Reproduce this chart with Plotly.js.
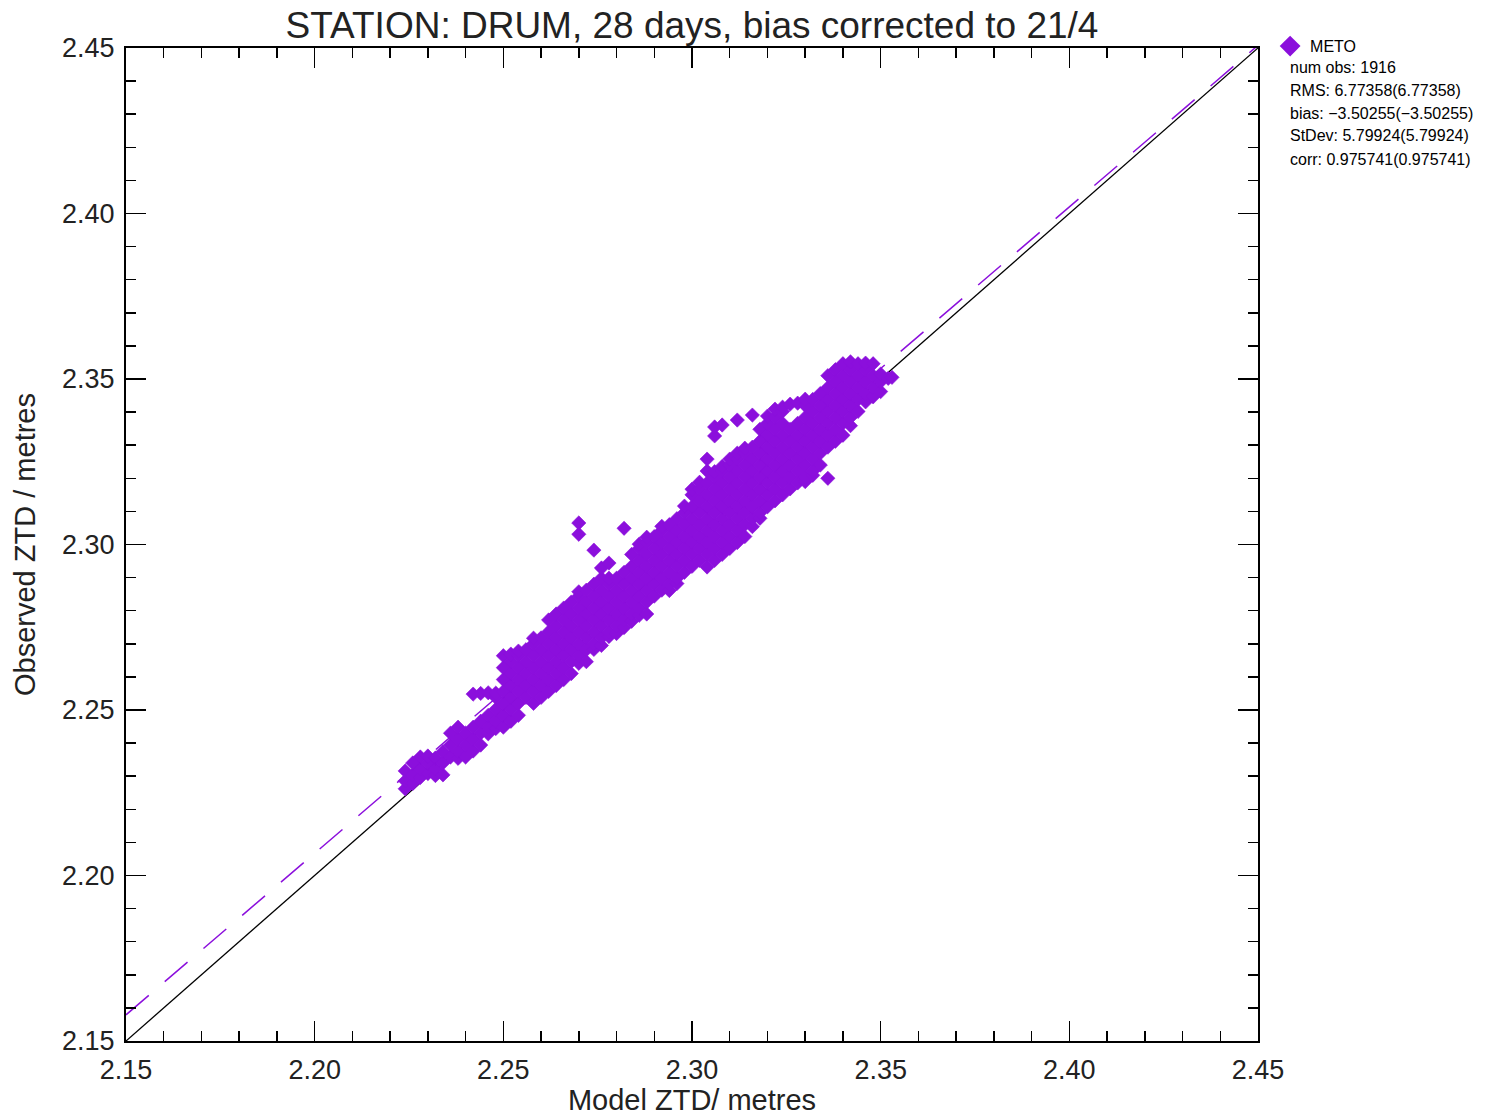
<!DOCTYPE html>
<html>
<head>
<meta charset="utf-8">
<script src="https://cdn.plot.ly/plotly-3.0.1.min.js"></script>
<style>html,body{margin:0;padding:0;background:#fff;}</style>
</head>
<body>
<div id="chart" style="width:1491px;height:1116px;"></div>
<script>
// ---- Data ----
const chartTitle = 'STATION: DRUM, 28 days, bias corrected to 21/4';
const xTitle = 'Model ZTD/ metres';
const yTitle = 'Observed ZTD / metres';
const seriesName = 'METO';
const statLines = [
  'num obs: 1916',
  'RMS: 6.77358(6.77358)',
  'bias: \u22123.50255(\u22123.50255)',
  'StDev: 5.79924(5.79924)',
  'corr: 0.975741(0.975741)'
];
const axisRange = [2.15, 2.45];
// one-to-one line and fitted (regression) line end points
const identityX = [2.15, 2.45];
const identityY = [2.15, 2.45];
const fitX = [2.15, 2.45];
const fitY = [2.1579, 2.4508];

// model ZTD column positions and the observed ZTD values read in each column
const modelZTDColumns = [
  2.224, 2.226, 2.228, 2.230, 2.232, 2.234, 2.236, 2.238, 2.240, 2.242,
  2.244, 2.246, 2.248, 2.250, 2.252, 2.254, 2.256, 2.258, 2.260, 2.262,
  2.264, 2.266, 2.268, 2.270, 2.272, 2.274, 2.276, 2.278, 2.280, 2.282,
  2.284, 2.286, 2.288, 2.290, 2.292, 2.294, 2.296, 2.298, 2.300, 2.302,
  2.304, 2.306, 2.308, 2.310, 2.312, 2.314, 2.316, 2.318, 2.320, 2.322,
  2.324, 2.326, 2.328, 2.330, 2.332, 2.334, 2.336, 2.338, 2.340, 2.342,
  2.344, 2.346, 2.348, 2.350, 2.352, 2.353
];
const observedZTDColumns = [
  [2.2262, 2.2286, 2.2316],
  [2.2278, 2.2304, 2.2340],
  [2.2296, 2.2322, 2.2358],
  [2.2308, 2.2340, 2.2361],
  [2.2302, 2.2322, 2.2355],
  [2.2304, 2.2340, 2.2374],
  [2.2358, 2.2394, 2.2430],
  [2.2354, 2.2376, 2.2412, 2.2448],
  [2.2358, 2.2394, 2.2430],
  [2.2376, 2.2412, 2.2448, 2.2548],
  [2.2394, 2.2430, 2.2466, 2.2550],
  [2.2428, 2.2448, 2.2484, 2.2552],
  [2.2444, 2.2466, 2.2502, 2.2538, 2.2551],
  [2.2448, 2.2484, 2.2520, 2.2556, 2.2592, 2.2628, 2.2664],
  [2.2466, 2.2502, 2.2538, 2.2574, 2.2610, 2.2646, 2.2669],
  [2.2484, 2.2520, 2.2556, 2.2592, 2.2628, 2.2664, 2.2678],
  [2.2538, 2.2574, 2.2610, 2.2646, 2.2682],
  [2.2520, 2.2556, 2.2592, 2.2628, 2.2664, 2.2700, 2.2717],
  [2.2538, 2.2574, 2.2610, 2.2646, 2.2682, 2.2718],
  [2.2556, 2.2592, 2.2628, 2.2664, 2.2700, 2.2736, 2.2772],
  [2.2574, 2.2610, 2.2646, 2.2682, 2.2718, 2.2754, 2.2790],
  [2.2592, 2.2628, 2.2664, 2.2700, 2.2736, 2.2772, 2.2808],
  [2.2610, 2.2646, 2.2682, 2.2718, 2.2754, 2.2790, 2.2826],
  [2.2641, 2.2664, 2.2700, 2.2736, 2.2772, 2.2808, 2.2844, 2.2857, 2.3031, 2.3065],
  [2.2646, 2.2682, 2.2718, 2.2754, 2.2790, 2.2826, 2.2862],
  [2.2683, 2.2700, 2.2736, 2.2772, 2.2808, 2.2844, 2.2880, 2.2983],
  [2.2695, 2.2718, 2.2754, 2.2790, 2.2826, 2.2862, 2.2898, 2.2929],
  [2.2722, 2.2736, 2.2772, 2.2808, 2.2844, 2.2880, 2.2898, 2.2944],
  [2.2731, 2.2754, 2.2790, 2.2826, 2.2862, 2.2898],
  [2.2749, 2.2772, 2.2808, 2.2844, 2.2880, 2.2916, 2.3049],
  [2.2768, 2.2790, 2.2826, 2.2862, 2.2898, 2.2934, 2.2970],
  [2.2786, 2.2808, 2.2844, 2.2880, 2.2916, 2.2952, 2.2988, 2.3001],
  [2.2790, 2.2826, 2.2862, 2.2898, 2.2934, 2.2970, 2.3006, 2.3022],
  [2.2844, 2.2880, 2.2916, 2.2952, 2.2988, 2.3024],
  [2.2862, 2.2898, 2.2934, 2.2970, 2.3006, 2.3042, 2.3055],
  [2.2861, 2.2880, 2.2916, 2.2952, 2.2988, 2.3024, 2.3060],
  [2.2882, 2.2898, 2.2934, 2.2970, 2.3006, 2.3042, 2.3078],
  [2.2916, 2.2952, 2.2988, 2.3024, 2.3060, 2.3096, 2.3116],
  [2.2934, 2.2970, 2.3006, 2.3042, 2.3078, 2.3114, 2.3150, 2.3167],
  [2.2952, 2.2988, 2.3024, 2.3060, 2.3096, 2.3132, 2.3168, 2.3188],
  [2.2932, 2.2970, 2.3006, 2.3042, 2.3078, 2.3114, 2.3150, 2.3186, 2.3222, 2.3258],
  [2.2952, 2.2988, 2.3024, 2.3060, 2.3096, 2.3132, 2.3168, 2.3204, 2.3220, 2.3328, 2.3355],
  [2.2970, 2.3006, 2.3042, 2.3078, 2.3114, 2.3150, 2.3186, 2.3222, 2.3236, 2.3361],
  [2.2988, 2.3024, 2.3060, 2.3096, 2.3132, 2.3168, 2.3204, 2.3240, 2.3258],
  [2.3006, 2.3042, 2.3078, 2.3114, 2.3150, 2.3186, 2.3222, 2.3258, 2.3276, 2.3376],
  [2.3024, 2.3060, 2.3096, 2.3132, 2.3168, 2.3204, 2.3240, 2.3276, 2.3291],
  [2.3054, 2.3078, 2.3114, 2.3150, 2.3186, 2.3222, 2.3258, 2.3294, 2.3391],
  [2.3079, 2.3096, 2.3132, 2.3168, 2.3204, 2.3240, 2.3276, 2.3312, 2.3348],
  [2.3114, 2.3150, 2.3186, 2.3222, 2.3258, 2.3294, 2.3330, 2.3366, 2.3388],
  [2.3132, 2.3168, 2.3204, 2.3240, 2.3276, 2.3312, 2.3348, 2.3384, 2.3409],
  [2.3150, 2.3186, 2.3222, 2.3258, 2.3294, 2.3330, 2.3366, 2.3402, 2.3415],
  [2.3168, 2.3204, 2.3240, 2.3276, 2.3312, 2.3348, 2.3424],
  [2.3186, 2.3222, 2.3258, 2.3294, 2.3330, 2.3366, 2.3427],
  [2.3190, 2.3204, 2.3240, 2.3276, 2.3312, 2.3348, 2.3384, 2.3420, 2.3439],
  [2.3209, 2.3222, 2.3258, 2.3294, 2.3330, 2.3366, 2.3402, 2.3438],
  [2.3240, 2.3276, 2.3312, 2.3348, 2.3384, 2.3420, 2.3456],
  [2.3200, 2.3294, 2.3330, 2.3366, 2.3402, 2.3438, 2.3474, 2.3510],
  [2.3312, 2.3348, 2.3384, 2.3420, 2.3456, 2.3492, 2.3528],
  [2.3330, 2.3366, 2.3402, 2.3438, 2.3474, 2.3510, 2.3546],
  [2.3359, 2.3384, 2.3420, 2.3456, 2.3492, 2.3528, 2.3552],
  [2.3402, 2.3438, 2.3474, 2.3510, 2.3546],
  [2.3431, 2.3456, 2.3492, 2.3528, 2.3548],
  [2.3446, 2.3474, 2.3510, 2.3546],
  [2.3462, 2.3492, 2.3515],
  [2.3502],
  [2.3505]
];

// ---- Build flat arrays for the scatter trace ----
const modelZTD = [];
const observedZTD = [];
modelZTDColumns.forEach((m, i) => {
  observedZTDColumns[i].forEach(o => { modelZTD.push(m); observedZTD.push(o); });
});

const purple = '#8B0FDC';
const fontFamily = 'Liberation Sans, Arial, sans-serif';

const traces = [
  { x: identityX, y: identityY, mode: 'lines', type: 'scatter', showlegend: false,
    hoverinfo: 'skip', line: { color: '#000', width: 1.3 } },
  { x: fitX, y: fitY, mode: 'lines', type: 'scatter', showlegend: false,
    hoverinfo: 'skip', line: { color: purple, width: 1.5, dash: '30px,21px' } },
  { x: modelZTD, y: observedZTD, mode: 'markers', type: 'scatter', name: seriesName,
    showlegend: false,
    marker: { symbol: 'diamond', size: 11, color: purple, line: { width: 0.6, color: purple } } },
  // legend entry for the series (no data of its own)
  { x: [null], y: [null], mode: 'markers', type: 'scatter', name: seriesName,
    marker: { symbol: 'diamond', size: 16, color: purple, line: { width: 0 } } }
];

function axisCfg(titleText, standoff) {
  return {
    range: axisRange, autorange: false,
    tick0: 2.15, dtick: 0.05, tickformat: '.2f',
    ticks: 'inside', ticklen: 20, tickwidth: 1.5, tickcolor: '#000',
    mirror: 'ticks', showline: true, linewidth: 2, linecolor: '#000',
    showgrid: false, zeroline: false,
    minor: { dtick: 0.01, ticks: 'inside', ticklen: 10, tickwidth: 1.5, tickcolor: '#000', showgrid: false },
    tickfont: { size: 27, family: fontFamily, color: '#222' },
    ticklabelstandoff: 4,
    title: { text: titleText, font: { size: 29, family: fontFamily, color: '#222' }, standoff: standoff },
    automargin: false
  };
}

const statY = [0.9799, 0.9577, 0.9345, 0.9114, 0.8882];
const statAnnotations = statLines.map((t, i) => ({
  text: t, xref: 'paper', yref: 'paper',
  x: 1.0265, y: statY[i],
  xanchor: 'left', yanchor: 'middle', showarrow: false,
  font: { size: 16, family: fontFamily, color: '#000' }
}));

const layout = {
  width: 1491, height: 1116,
  margin: { l: 126, r: 233, t: 48, b: 75 },
  paper_bgcolor: '#fff', plot_bgcolor: '#fff',
  font: { family: fontFamily, color: '#000' },
  title: { text: chartTitle, x: 0.5, xref: 'paper', xanchor: 'center',
           y: 1 - 25 / 1116, yref: 'container', yanchor: 'middle',
           font: { size: 37, family: fontFamily, color: '#222' } },
  xaxis: axisCfg(xTitle, 10),
  yaxis: axisCfg(yTitle, 18),
  showlegend: true,
  legend: { x: 1.0107, xanchor: 'left', y: 1.019, yanchor: 'top',
            bgcolor: 'rgba(0,0,0,0)', borderwidth: 0,
            font: { size: 16, family: fontFamily, color: '#000' } },
  annotations: statAnnotations
};

Plotly.newPlot('chart', traces, layout, { displayModeBar: false, staticPlot: true });
</script>
</body>
</html>
